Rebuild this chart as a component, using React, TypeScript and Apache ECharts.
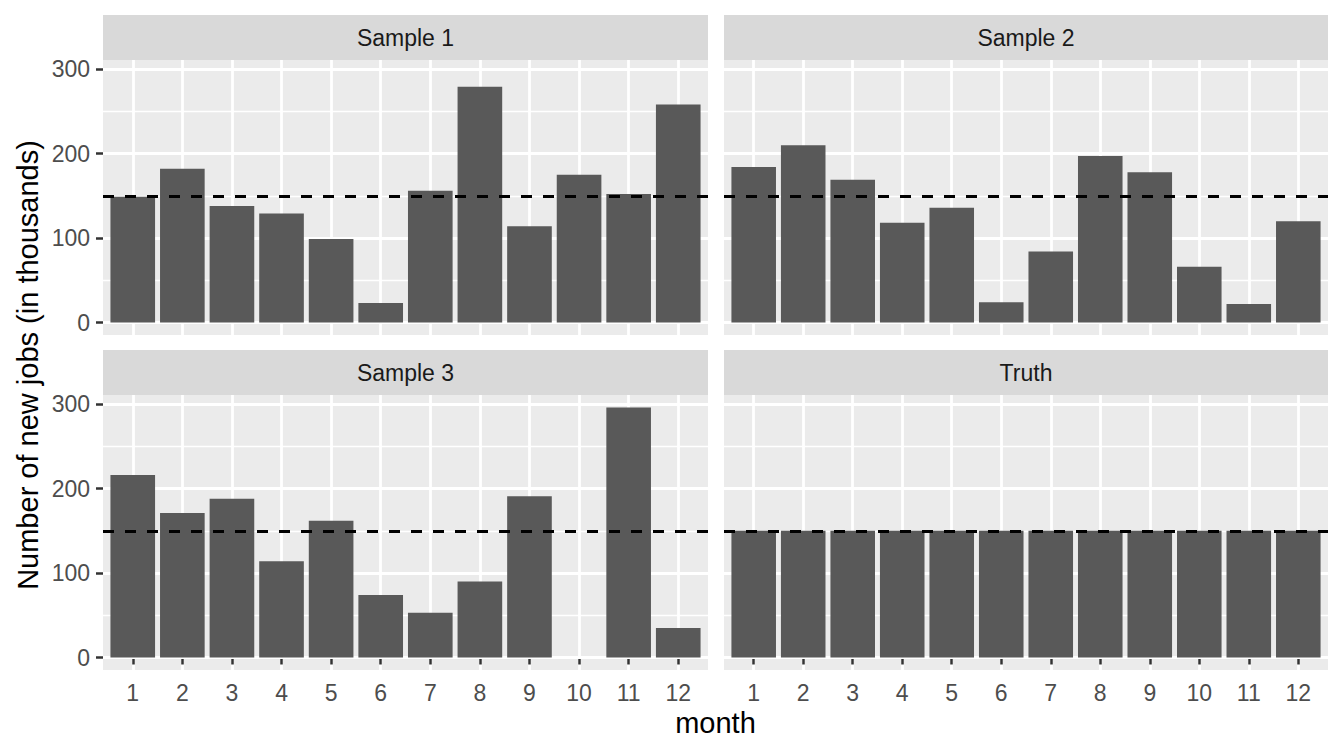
import React, { useEffect, useRef } from "react";
import * as echarts from "echarts";

// ---- data ----
const months = [1, 2, 3, 4, 5, 6, 7, 8, 9, 10, 11, 12];
const panelTitles = ["Sample 1", "Sample 2", "Sample 3", "Truth"];
const sample1 = [149, 182, 138, 129, 99, 23, 156, 279, 114, 175, 152, 258];
const sample2 = [184, 210, 169, 118, 136, 24, 84, 197, 178, 66, 22, 120];
const sample3 = [216, 171, 188, 114, 162, 74, 53, 90, 191, 0, 296, 35];
const truth = [150, 150, 150, 150, 150, 150, 150, 150, 150, 150, 150, 150];
const referenceLine = 150;
const yTicks = [0, 100, 200, 300];
const yMinorTicks = [50, 150, 250];
const xTitle = "month";
const yTitle = "Number of new jobs (in thousands)";

const seriesValues = [sample1, sample2, sample3, truth];

// ---- layout ----
const FONT = "Liberation Sans, Arial, Helvetica, sans-serif";
const PANEL_H = 275;
const STRIP_H = 45;
const panels = [
  { left: 103, top: 60, width: 605 },
  { left: 724, top: 60, width: 604 },
  { left: 103, top: 395, width: 605 },
  { left: 724, top: 395, width: 604 },
];
const X_MIN = 0.4;
const X_MAX = 12.6;
const Y_MIN = -14.8;
const Y_MAX = 310.8;

export default function App() {
  const ref = useRef<HTMLDivElement>(null);

  useEffect(() => {
    if (!ref.current) return;
    const chart = echarts.init(ref.current, undefined, { renderer: "svg" });

    const grid = panels.map((p) => ({
      left: p.left,
      top: p.top,
      width: p.width,
      height: PANEL_H,
      show: true,
      backgroundColor: "#EBEBEB",
      borderWidth: 0,
      containLabel: false,
    }));

    const xAxis = panels.map((p, i) => ({
      type: "value",
      gridIndex: i,
      min: X_MIN,
      max: X_MAX,
      axisLine: { show: false },
      axisTick: {
        show: i >= 2,
        customValues: months,
        length: 7,
        lineStyle: { color: "#333333", width: 2.5 },
      },
      axisLabel: {
        show: i >= 2,
        customValues: months,
        color: "#4D4D4D",
        fontSize: 23,
        fontFamily: FONT,
        margin: 11,
      },
      splitLine: { show: true, lineStyle: { color: "#FFFFFF", width: 2.8 } },
    }));

    const yAxisMajor = panels.map((p, i) => ({
      type: "value",
      gridIndex: i,
      position: "left",
      min: Y_MIN,
      max: Y_MAX,
      axisLine: { show: false },
      axisTick: {
        show: i % 2 === 0,
        customValues: yTicks,
        length: 7,
        lineStyle: { color: "#333333", width: 2.5 },
      },
      axisLabel: {
        show: i % 2 === 0,
        customValues: yTicks,
        color: "#4D4D4D",
        fontSize: 23,
        fontFamily: FONT,
        margin: 13,
      },
      splitLine: { show: true, lineStyle: { color: "#FFFFFF", width: 2.8 } },
      z: 1,
    }));

    const yAxisMinor = panels.map((p, i) => ({
      type: "value",
      gridIndex: i,
      position: "left",
      min: Y_MIN,
      max: Y_MAX,
      axisLine: { show: false },
      axisTick: { show: false, customValues: yMinorTicks },
      axisLabel: { show: false, customValues: yMinorTicks },
      splitLine: { show: true, lineStyle: { color: "#FFFFFF", width: 1.4 } },
      z: 0,
    }));

    const series = seriesValues.map((vals, i) => ({
      type: "bar",
      xAxisIndex: i,
      yAxisIndex: i,
      data: months.map((m, k) => [m, vals[k]]),
      barWidth: (0.9 * panels[i].width) / (X_MAX - X_MIN),
      itemStyle: { color: "#595959" },
      silent: true,
      markLine: {
        silent: true,
        symbol: ["none", "none"],
        label: { show: false },
        lineStyle: { color: "#000000", width: 2.8, type: [11, 11] },
        data: [{ yAxis: referenceLine }],
        animation: false,
      },
    }));

    const graphic: any[] = [];
    panels.forEach((p, i) => {
      graphic.push({
        type: "rect",
        shape: { x: p.left, y: p.top - STRIP_H, width: p.width, height: STRIP_H },
        style: { fill: "#D9D9D9" },
        silent: true,
      });
      graphic.push({
        type: "text",
        x: p.left + p.width / 2,
        y: p.top - STRIP_H / 2,
        style: {
          text: panelTitles[i],
          fill: "#1A1A1A",
          fontSize: 23,
          fontFamily: FONT,
          align: "center",
          verticalAlign: "middle",
        },
        silent: true,
      });
    });
    graphic.push({
      type: "text",
      x: (panels[0].left + panels[1].left + panels[1].width) / 2,
      y: 723,
      style: {
        text: xTitle,
        fill: "#000000",
        fontSize: 29,
        fontFamily: FONT,
        align: "center",
        verticalAlign: "middle",
      },
      silent: true,
    });
    graphic.push({
      type: "text",
      x: 28,
      y: (panels[0].top + panels[2].top + PANEL_H) / 2,
      rotation: Math.PI / 2,
      style: {
        text: yTitle,
        fill: "#000000",
        fontSize: 29,
        fontFamily: FONT,
        align: "center",
        verticalAlign: "middle",
      },
      silent: true,
    });

    chart.setOption({
      animation: false,
      backgroundColor: "#FFFFFF",
      grid,
      xAxis,
      yAxis: [...yAxisMajor, ...yAxisMinor],
      series,
      graphic,
    });

    return () => chart.dispose();
  }, []);

  return (
    <div
      ref={ref}
      style={{ position: "absolute", left: 0, top: 0, width: 1344, height: 756 }}
    />
  );
}
